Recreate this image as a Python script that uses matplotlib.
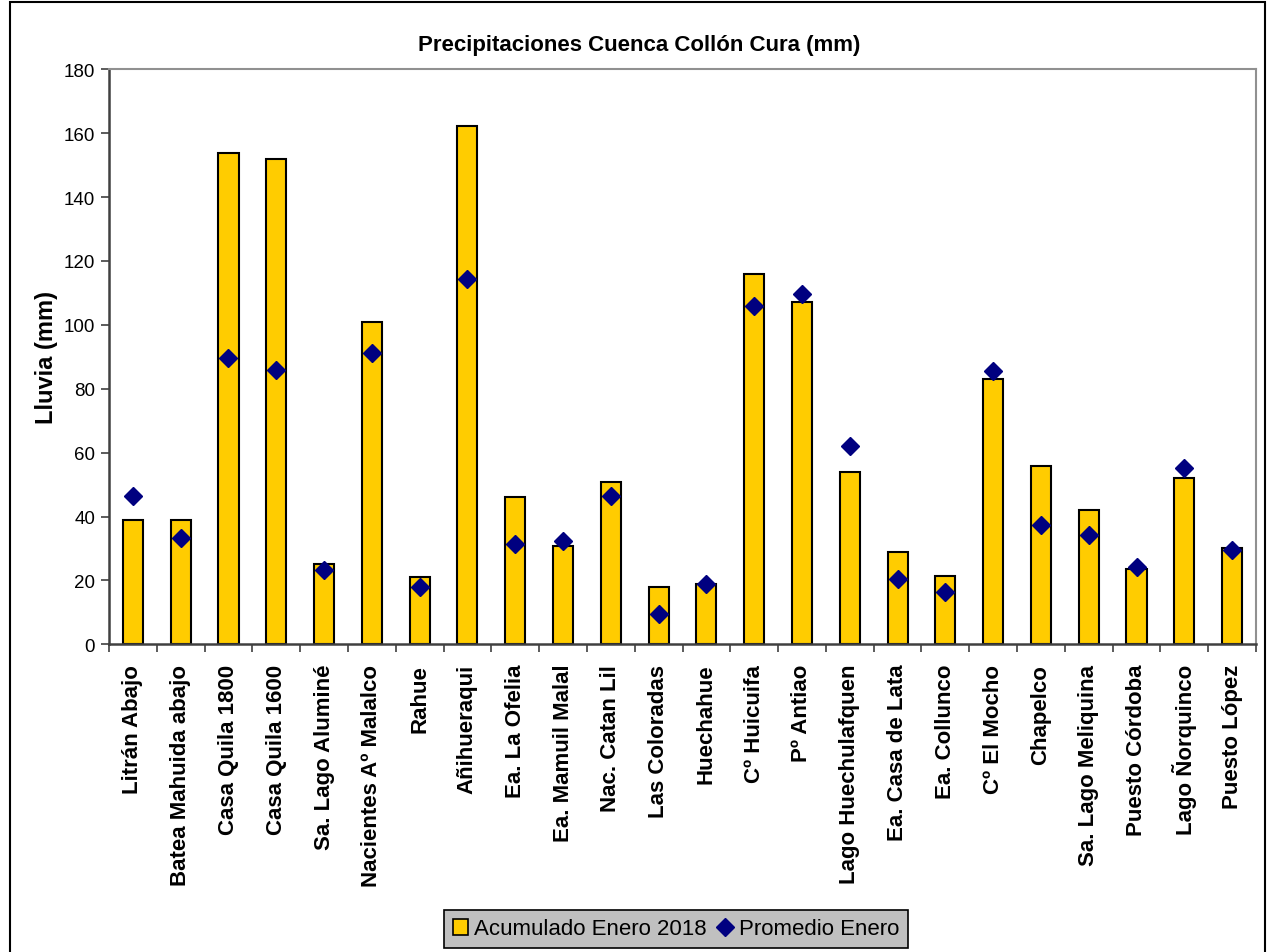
import matplotlib
matplotlib.use("Agg")
import matplotlib.pyplot as plt
from matplotlib.patches import Rectangle
from matplotlib.lines import Line2D
import numpy as np

plt.rcParams['font.family'] = ['Liberation Sans', 'DejaVu Sans']

stations = ["Litrán Abajo", "Batea Mahuida abajo", "Casa Quila 1800", "Casa Quila 1600",
            "Sa. Lago Aluminé", "Nacientes Aº Malalco", "Rahue", "Añihueraqui",
            "Ea. La Ofelia", "Ea. Mamuil Malal", "Nac. Catan Lil", "Las Coloradas",
            "Huechahue", "Cº Huicuifa", "Pº Antiao", "Lago Huechulafquen",
            "Ea. Casa de Lata", "Ea. Collunco", "Cº El Mocho", "Chapelco",
            "Sa. Lago Meliquina", "Puesto Córdoba", "Lago Ñorquinco", "Puesto López"]
acumulado = [38.8, 38.8, 153.9, 151.8, 25.1, 101.0, 21.0, 162.2,
             46.1, 30.9, 50.9, 17.9, 18.8, 116.0, 107.3, 53.8,
             29.0, 21.4, 83.0, 55.8, 42.1, 23.7, 52.0, 30.1]
promedio = [46.5, 33.4, 89.6, 85.9, 23.3, 91.2, 17.8, 114.4,
            31.4, 32.4, 46.5, 9.6, 18.8, 105.8, 109.7, 62.1,
            20.3, 16.4, 85.4, 37.3, 34.3, 24.2, 55.2, 29.5]
yticks = [0, 20, 40, 60, 80, 100, 120, 140, 160, 180]

W, H = 1268, 953
fig = plt.figure(figsize=(W / 100, H / 100), dpi=100)
fig.patch.set_facecolor('white')

# outer border
fig.add_artist(Rectangle((10 / W, -0.01), (1265 - 10) / W, 1 - 3 / H + 0.01,
                         transform=fig.transFigure, fill=False,
                         edgecolor='black', linewidth=1.5))

ax = fig.add_axes([109 / W, 1 - 645.3 / H, (1256 - 109) / W, (645.3 - 70.3) / H])
x = np.arange(len(stations))
ax.bar(x, acumulado, width=0.42, color='#FFCC00', edgecolor='black',
       linewidth=1.5, label='Acumulado Enero 2018', zorder=2)
ax.plot(x, promedio, linestyle='none', marker='D', markersize=9.5,
        color='#000080', label='Promedio Enero', zorder=3)

ax.set_xlim(-0.5, len(stations) - 0.5)
ax.set_ylim(0, 180)
ax.set_yticks(yticks)
ax.set_yticklabels([str(v) for v in yticks], fontsize=13.5)
ax.set_xticks(x)
ax.set_xticklabels(stations, rotation=90, fontsize=16, fontweight='bold',
                   va='top', ha='center')
ax.tick_params(axis='x', length=0, pad=14)
ax.set_xticks(np.arange(-0.5, len(stations), 1.0), minor=True)
ax.tick_params(axis='x', which='minor', length=6, width=1.2, color='#404040')
ax.tick_params(axis='y', length=6, width=1.2, color='#404040', pad=4)

for s in ['left', 'bottom']:
    ax.spines[s].set_color('#404040')
    ax.spines[s].set_linewidth(1.8)
for s in ['top', 'right']:
    ax.spines[s].set_color('#909090')
    ax.spines[s].set_linewidth(1.5)

fig.text(639 / W, 1 - 45 / H, 'Precipitaciones Cuenca Collón Cura (mm)',
         fontsize=16, fontweight='bold', ha='center', va='center')
ax.set_ylabel('Lluvia (mm)', fontsize=17, fontweight='bold', labelpad=4)

handles = [Rectangle((0, 0), 1, 1, facecolor='#FFCC00', edgecolor='black', linewidth=1.2),
           Line2D([], [], linestyle='none', marker='D', markersize=9, color='#000080')]
leg = fig.legend(handles, ['Acumulado Enero 2018', 'Promedio Enero'],
                 loc='center', bbox_to_anchor=(676 / W, 1 - 930 / H), ncol=2,
                 fontsize=16, frameon=True, fancybox=False, handlelength=0.7,
                 handletextpad=0.25, columnspacing=0.5, borderpad=0.4,
                 borderaxespad=0)
leg.get_frame().set_facecolor('#C0C0C0')
leg.get_frame().set_edgecolor('black')
leg.get_frame().set_linewidth(1.2)
leg.get_frame().set_alpha(1)

fig.savefig('out.png', dpi=100)
